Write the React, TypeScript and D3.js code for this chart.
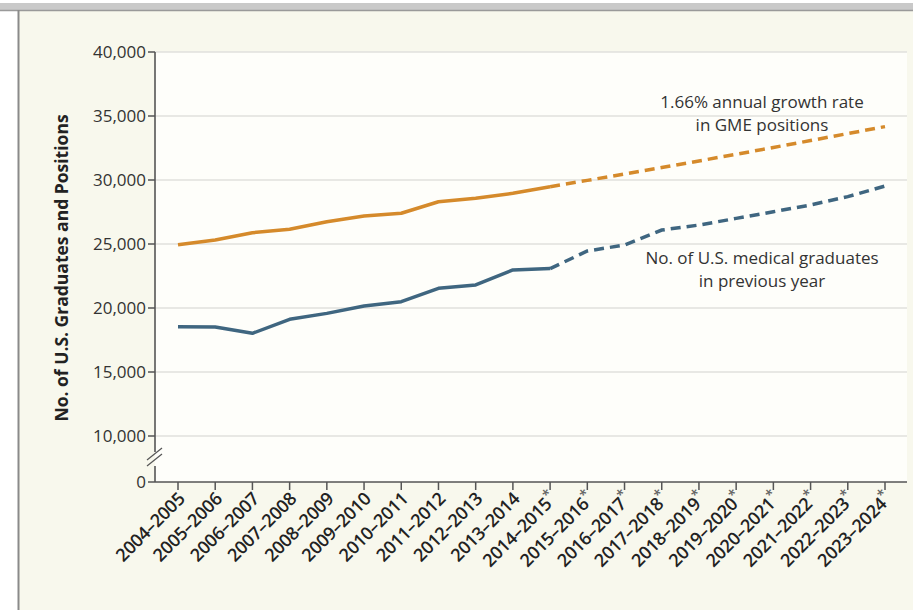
import React from "react";
import * as d3 from "d3";

const categories = [
  "2004–2005", "2005–2006", "2006–2007", "2007–2008", "2008–2009", "2009–2010",
  "2010–2011", "2011–2012", "2012–2013", "2013–2014", "2014–2015", "2015–2016",
  "2016–2017", "2017–2018", "2018–2019", "2019–2020", "2020–2021", "2021–2022",
  "2022–2023", "2023–2024",
];
const projectedFlags = [
  false, false, false, false, false, false, false, false, false, false,
  true, true, true, true, true, true, true, true, true, true,
];
const gmePositions = [
  24950, 25310, 25880, 26150, 26740, 27190, 27400, 28300, 28570, 28960,
  29480, 29970, 30470, 30970, 31490, 32010, 32540, 33080, 33630, 34170,
];
const usGraduates = [
  18540, 18520, 18020, 19120, 19580, 20160, 20490, 21540, 21800, 22970,
  23080, 24450, 24920, 26090, 26480, 27000, 27520, 28050, 28700, 29530,
];
const actualCount = 11; // first 11 points (through 2014–2015) are solid
const yTicks = [10000, 15000, 20000, 25000, 30000, 35000, 40000];

const W = 913;
const H = 610;
const ORANGE = "#d58a2b";
const BLUE = "#3f6680";
const FONT = "'Open Sans', 'Lato', sans-serif";

export default function App() {
  const x = d3.scalePoint<string>().domain(categories).range([178, 885]);
  const y = d3.scaleLinear().domain([10000, 40000]).range([436, 52]);
  const axisX = 155;
  const axisY = 482;
  const plotRight = 907;

  const line = d3
    .line<number>()
    .x((_, i) => x(categories[i]) as number)
    .y((d) => y(d));

  const solid = (vals: number[]) =>
    line.defined((_, i) => i < actualCount)(vals) || "";
  const dashed = (vals: number[]) =>
    line.defined((_, i) => i >= actualCount - 1)(vals) || "";

  const fmt = d3.format(",");

  return (
    <svg
      width={W}
      height={H}
      style={{ position: "fixed", left: 0, top: 0, display: "block" }}
      fontFamily={FONT}
    >
      <rect x={0} y={0} width={W} height={H} fill="#ffffff" />
      {/* panel */}
      <rect x={18} y={10} width={W - 18} height={H - 10} fill="#f8f8ed" />
      <rect x={0} y={3} width={W} height={7} fill="#c9c9c9" />
      <line x1={0} x2={W} y1={10.5} y2={10.5} stroke="#9a9a9a" strokeWidth={1.5} />
      <line x1={18.5} x2={18.5} y1={10} y2={H} stroke="#8a8a8a" strokeWidth={2} />
      {/* plot area */}
      <rect x={axisX} y={52} width={plotRight - axisX} height={axisY - 52} fill="#fefefa" />

      {/* grid */}
      {yTicks.map((t) => (
        <line
          key={"g" + t}
          x1={axisX}
          x2={plotRight}
          y1={y(t)}
          y2={y(t)}
          stroke="#e0e0dc"
          strokeWidth={1.5}
        />
      ))}

      {/* y axis with break */}
      <line x1={axisX} x2={axisX} y1={52} y2={452} stroke="#555" strokeWidth={1.6} />
      <line x1={axisX} x2={axisX} y1={466} y2={axisY} stroke="#555" strokeWidth={1.6} />
      <line x1={147} x2={162} y1={460} y2={448} stroke="#555" strokeWidth={1.3} />
      <line x1={147} x2={162} y1={466} y2={454} stroke="#555" strokeWidth={1.3} />
      {yTicks.map((t) => (
        <g key={"yt" + t}>
          <line x1={axisX - 7} x2={axisX} y1={y(t)} y2={y(t)} stroke="#555" strokeWidth={1.5} />
          <text
            x={axisX - 9}
            y={y(t)}
            dy="0.35em"
            textAnchor="end"
            fontSize={17}
            fill="#333"
          >
            {fmt(t)}
          </text>
        </g>
      ))}
      <line x1={axisX - 7} x2={axisX} y1={axisY} y2={axisY} stroke="#555" strokeWidth={1.5} />
      <text x={axisX - 9} y={axisY} dy="0.35em" textAnchor="end" fontSize={17} fill="#333">
        0
      </text>

      {/* x axis */}
      <line x1={axisX} x2={plotRight} y1={axisY} y2={axisY} stroke="#555" strokeWidth={1.6} />
      {categories.map((c, i) => {
        const cx = x(c) as number;
        return (
          <g key={c}>
            <line x1={cx} x2={cx} y1={axisY} y2={axisY + 8} stroke="#555" strokeWidth={1.5} />
            <text
              transform={`translate(${cx + 8},${axisY + 18}) rotate(-45)`}
              textAnchor="end"
              fontSize={18}
              fontWeight={600}
              fill="#222"
              letterSpacing={-0.3}
            >
              {c}
              {projectedFlags[i] ? (
                <tspan fontSize={14} dy={-7} fill="#666">
                  *
                </tspan>
              ) : null}
            </text>
          </g>
        );
      })}

      {/* y axis title */}
      <text
        transform={`translate(68,268) rotate(-90)`}
        textAnchor="middle"
        fontSize={17.5}
        fontWeight={700}
        fill="#222"
      >
        No. of U.S. Graduates and Positions
      </text>

      {/* lines */}
      <path d={solid(gmePositions)} fill="none" stroke={ORANGE} strokeWidth={3.5} strokeLinejoin="round" />
      <path
        d={dashed(gmePositions)}
        fill="none"
        stroke={ORANGE}
        strokeWidth={3.5}
        strokeDasharray="10,6"
      />
      <path d={solid(usGraduates)} fill="none" stroke={BLUE} strokeWidth={3.5} strokeLinejoin="round" />
      <path
        d={dashed(usGraduates)}
        fill="none"
        stroke={BLUE}
        strokeWidth={3.5}
        strokeDasharray="10,6"
      />

      {/* annotations */}
      <text x={762} y={108} textAnchor="middle" fontSize={17} fill="#333">
        1.66% annual growth rate
      </text>
      <text x={762} y={131} textAnchor="middle" fontSize={17} fill="#333">
        in GME positions
      </text>
      <text x={762} y={264} textAnchor="middle" fontSize={17} fill="#333">
        No. of U.S. medical graduates
      </text>
      <text x={762} y={287} textAnchor="middle" fontSize={17} fill="#333">
        in previous year
      </text>
    </svg>
  );
}
